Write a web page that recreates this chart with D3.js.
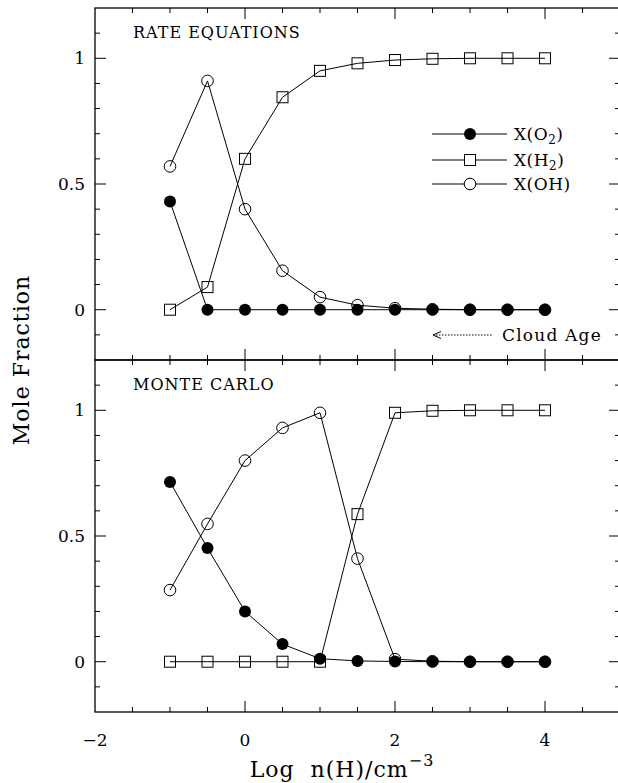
<!DOCTYPE html>
<html>
<head>
<meta charset="utf-8">
<script src="https://cdn.jsdelivr.net/npm/d3@7"></script>
<style>
  body { margin: 0; background: #fff; }
  text { font-family: "DejaVu Serif", "Liberation Serif", serif; fill: #000; }
</style>
</head>
<body>
<div id="chart"></div>
<script>
// data
var logN = [-1, -0.5, 0, 0.5, 1, 1.5, 2, 2.5, 3, 3.5, 4];

var rateO2 = [0.43, 0, 0, 0, 0, 0, 0, 0, 0, 0, 0];
var rateH2 = [0, 0.09, 0.60, 0.845, 0.95, 0.98, 0.993, 0.998, 1, 1, 1];
var rateOH = [0.57, 0.91, 0.40, 0.155, 0.05, 0.018, 0.006, 0.002, 0, 0, 0];

var mcO2 = [0.715, 0.452, 0.20, 0.07, 0.012, 0.003, 0.001, 0, 0, 0, 0];
var mcH2 = [0, 0, 0, 0, 0, 0.587, 0.99, 0.998, 1, 1, 1];
var mcOH = [0.285, 0.548, 0.80, 0.93, 0.99, 0.41, 0.01, 0.002, 0, 0, 0];

var panelTitles = ["RATE EQUATIONS", "MONTE CARLO"];
var legendLabels = ["O", "H", "OH"];
var xTicks = [-2, 0, 2, 4];
var yTicks = [0, 0.5, 1];

var W = 618, H = 783;
var frameL = 95, frameR = 620, frameT = 8, frameM = 360, frameB = 712;

var svg = d3.select("#chart").append("svg")
    .attr("width", W)
    .attr("height", H);

var x = d3.scaleLinear().domain([-2, 5]).range([frameL, frameR]);

var panels = [
  {y0: frameT, y1: frameM, title: panelTitles[0], o2: rateO2, h2: rateH2, oh: rateOH},
  {y0: frameM, y1: frameB, title: panelTitles[1], o2: mcO2, h2: mcH2, oh: mcOH}
];

function drawPanel(p) {
  var y = d3.scaleLinear().domain([-0.2, 1.2]).range([p.y1, p.y0]);
  var g = svg.append("g");

  // frame
  g.append("rect")
    .attr("x", frameL).attr("y", p.y0)
    .attr("width", frameR - frameL).attr("height", p.y1 - p.y0)
    .attr("fill", "none").attr("stroke", "#000").attr("stroke-width", 1.3);

  // y ticks, left and right, pointing in
  var yMinor = d3.range(-0.1, 1.15, 0.1).map(function(d){ return Math.round(d * 10) / 10; });
  yMinor.forEach(function(v) {
    var major = yTicks.indexOf(v) >= 0;
    var len = major ? 11 : 5;
    g.append("line").attr("x1", frameL).attr("x2", frameL + len)
      .attr("y1", y(v)).attr("y2", y(v)).attr("stroke", "#000").attr("stroke-width", 1);
    g.append("line").attr("x1", frameR).attr("x2", frameR - len)
      .attr("y1", y(v)).attr("y2", y(v)).attr("stroke", "#000").attr("stroke-width", 1);
  });
  yTicks.forEach(function(v) {
    g.append("text")
      .attr("x", 85).attr("y", y(v) + 6)
      .attr("text-anchor", "end")
      .style("font-size", "17px")
      .text(String(v));
  });

  // x ticks, top and bottom, pointing in
  d3.range(-1.5, 5, 0.5).forEach(function(v) {
    var major = v % 2 === 0;
    var len = major ? 11 : 5;
    g.append("line").attr("x1", x(v)).attr("x2", x(v))
      .attr("y1", p.y1).attr("y2", p.y1 - len).attr("stroke", "#000").attr("stroke-width", 1);
    g.append("line").attr("x1", x(v)).attr("x2", x(v))
      .attr("y1", p.y0).attr("y2", p.y0 + len).attr("stroke", "#000").attr("stroke-width", 1);
  });

  g.append("text")
    .attr("x", 133).attr("y", p.y0 + 30)
    .style("font-size", "16px")
    .style("letter-spacing", "1px")
    .text(p.title);

  var line = d3.line()
    .x(function(d, i){ return x(logN[i]); })
    .y(function(d){ return y(d); });

  [p.h2, p.oh, p.o2].forEach(function(s) {
    g.append("path").datum(s)
      .attr("d", line)
      .attr("fill", "none").attr("stroke", "#000").attr("stroke-width", 1);
  });

  g.selectAll(".sq").data(p.h2).enter().append("rect")
    .attr("x", function(d, i){ return x(logN[i]) - 5.5; })
    .attr("y", function(d){ return y(d) - 5.5; })
    .attr("width", 11).attr("height", 11)
    .attr("fill", "none").attr("stroke", "#000").attr("stroke-width", 1);

  g.selectAll(".oc").data(p.oh).enter().append("circle")
    .attr("cx", function(d, i){ return x(logN[i]); })
    .attr("cy", function(d){ return y(d); })
    .attr("r", 5.8)
    .attr("fill", "none").attr("stroke", "#000").attr("stroke-width", 1);

  g.selectAll(".fc").data(p.o2).enter().append("circle")
    .attr("cx", function(d, i){ return x(logN[i]); })
    .attr("cy", function(d){ return y(d); })
    .attr("r", 6)
    .attr("fill", "#000");
}

drawPanel(panels[0]);
drawPanel(panels[1]);

// legend in top panel
var legY = [134, 160, 184];
var leg = svg.append("g");
legY.forEach(function(ly, i) {
  leg.append("line").attr("x1", 432).attr("x2", 507)
    .attr("y1", ly).attr("y2", ly).attr("stroke", "#000").attr("stroke-width", 1);
  if (i === 0) {
    leg.append("circle").attr("cx", 470).attr("cy", ly).attr("r", 6).attr("fill", "#000");
  } else if (i === 1) {
    leg.append("rect").attr("x", 464.5).attr("y", ly - 5.5).attr("width", 11).attr("height", 11)
      .attr("fill", "#fff").attr("stroke", "#000");
  } else {
    leg.append("circle").attr("cx", 470).attr("cy", ly).attr("r", 5.8)
      .attr("fill", "#fff").attr("stroke", "#000");
  }
  var t = leg.append("text").attr("x", 514).attr("y", ly + 6)
    .style("font-size", "17px").style("letter-spacing", "0.5px");
  t.append("tspan").text("X(" + legendLabels[i]);
  if (i < 2) t.append("tspan").attr("dy", 4).style("font-size", "12px").text("2");
  t.append("tspan").attr("dy", i < 2 ? -4 : 0).text(")");
});

// cloud age arrow
var arrowY = 335;
leg.append("line").attr("x1", 436).attr("x2", 493)
  .attr("y1", arrowY).attr("y2", arrowY)
  .attr("stroke", "#000").attr("stroke-width", 1).attr("stroke-dasharray", "1.5,1.5");
leg.append("path")
  .attr("d", "M441," + (arrowY - 3.5) + " L433," + arrowY + " L441," + (arrowY + 3.5))
  .attr("fill", "none").attr("stroke", "#000").attr("stroke-width", 1);
leg.append("text").attr("x", 502).attr("y", arrowY + 6)
  .style("font-size", "17px").style("letter-spacing", "1.2px")
  .text("Cloud Age");

// x tick labels under bottom panel
xTicks.forEach(function(v) {
  svg.append("text")
    .attr("x", x(v)).attr("y", 746)
    .attr("text-anchor", "middle")
    .style("font-size", "17px")
    .text(v < 0 ? "\u2212" + Math.abs(v) : String(v));
});

// axis titles
var xt = svg.append("text")
  .attr("x", 342).attr("y", 777)
  .attr("text-anchor", "middle")
  .style("font-size", "22px")
  .style("letter-spacing", "1px")
  .style("white-space", "pre");
xt.append("tspan").text("Log  n(H)/cm");
xt.append("tspan").attr("dy", -11).style("font-size", "16px").text("\u22123");

svg.append("text")
  .attr("transform", "translate(29,360) rotate(-90)")
  .attr("text-anchor", "middle")
  .style("font-size", "22px")
  .style("letter-spacing", "1px")
  .text("Mole Fraction");
</script>
</body>
</html>
